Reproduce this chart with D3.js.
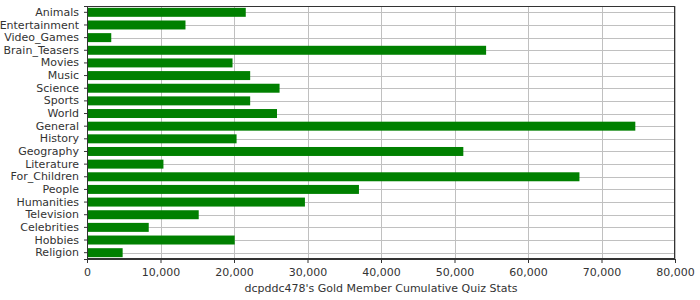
<!DOCTYPE html>
<html>
<head>
<meta charset="utf-8">
<script src="https://cdn.jsdelivr.net/npm/d3@7"></script>
<style>
  body { margin: 0; background: #fff; }
  text { font-family: "DejaVu Sans", sans-serif; fill: #333; }
</style>
</head>
<body>
<script>
// categories, top to bottom
var categories = ["Animals", "Entertainment", "Video_Games", "Brain_Teasers", "Movies",
    "Music", "Science", "Sports", "World", "General", "History", "Geography",
    "Literature", "For_Children", "People", "Humanities", "Television",
    "Celebrities", "Hobbies", "Religion"];

var values = [21600, 13400, 3300, 54300, 19800,
    22200, 26200, 22200, 25850, 74600, 20350, 51200,
    10400, 67000, 37000, 29650, 15200,
    8400, 20100, 4850];

var xTicks = [0, 10000, 20000, 30000, 40000, 50000, 60000, 70000, 80000];
var xTitle = "dcpddc478's Gold Member Cumulative Quiz Stats";

var width = 700,
    height = 300;
var margin = {top: 6, right: 25, bottom: 41, left: 87};

var svg = d3.select("body").append("svg")
    .attr("width", width)
    .attr("height", height);

var x = d3.scaleLinear()
    .domain([0, 80000])
    .range([margin.left, width - margin.right]);

var y = d3.scaleBand()
    .domain(categories)
    .range([margin.top, height - margin.bottom])
    .paddingInner(0.29)
    .paddingOuter(0.145);

var yPoint = function(c) { return y(c) + y.bandwidth() / 2; };

// vertical gridlines
svg.append("g")
    .selectAll("line")
    .data(xTicks)
    .enter().append("line")
    .attr("x1", function(d) { return Math.round(x(d)) + 0.5; })
    .attr("x2", function(d) { return Math.round(x(d)) + 0.5; })
    .attr("y1", margin.top)
    .attr("y2", height - margin.bottom)
    .attr("stroke", "#c0c0c0")
    .attr("stroke-width", 1);

// horizontal gridlines at category centres
svg.append("g")
    .selectAll("line")
    .data(categories)
    .enter().append("line")
    .attr("x1", margin.left)
    .attr("x2", width - margin.right)
    .attr("y1", function(d) { return Math.round(yPoint(d)) + 0.5; })
    .attr("y2", function(d) { return Math.round(yPoint(d)) + 0.5; })
    .attr("stroke", "#c0c0c0")
    .attr("stroke-width", 1);

// bars
svg.append("g")
    .selectAll("rect")
    .data(values)
    .enter().append("rect")
    .attr("x", x(0))
    .attr("y", function(d, i) { return y(categories[i]); })
    .attr("width", function(d) { return x(d) - x(0); })
    .attr("height", y.bandwidth())
    .attr("fill", "#008000");

// plot frame
svg.append("rect")
    .attr("x", margin.left + 0.5)
    .attr("y", margin.top + 0.5)
    .attr("width", width - margin.left - margin.right - 1)
    .attr("height", height - margin.top - margin.bottom - 1)
    .attr("fill", "none")
    .attr("stroke", "#333")
    .attr("stroke-width", 1);

// x axis
var xAxis = svg.append("g")
    .attr("transform", "translate(0," + (height - margin.bottom) + ")")
    .call(d3.axisBottom(x)
        .tickValues(xTicks)
        .tickSize(4)
        .tickPadding(5)
        .tickFormat(d3.format(",")));
xAxis.select(".domain").attr("stroke", "#333");
xAxis.selectAll(".tick line").attr("stroke", "#333");
xAxis.selectAll("text")
    .style("font-size", "11px")
    .attr("fill", "#333");

// y axis
var yAxis = svg.append("g")
    .attr("transform", "translate(" + margin.left + ",0)")
    .call(d3.axisLeft(y).tickSize(3).tickPadding(5));
yAxis.select(".domain").attr("stroke", "#333");
yAxis.selectAll(".tick line").attr("stroke", "#333");
yAxis.selectAll("text")
    .style("font-size", "11px")
    .attr("fill", "#333");

// axis title
svg.append("text")
    .attr("x", (margin.left + width - margin.right) / 2)
    .attr("y", 292)
    .attr("text-anchor", "middle")
    .style("font-size", "11px")
    .text(xTitle);
</script>
</body>
</html>
